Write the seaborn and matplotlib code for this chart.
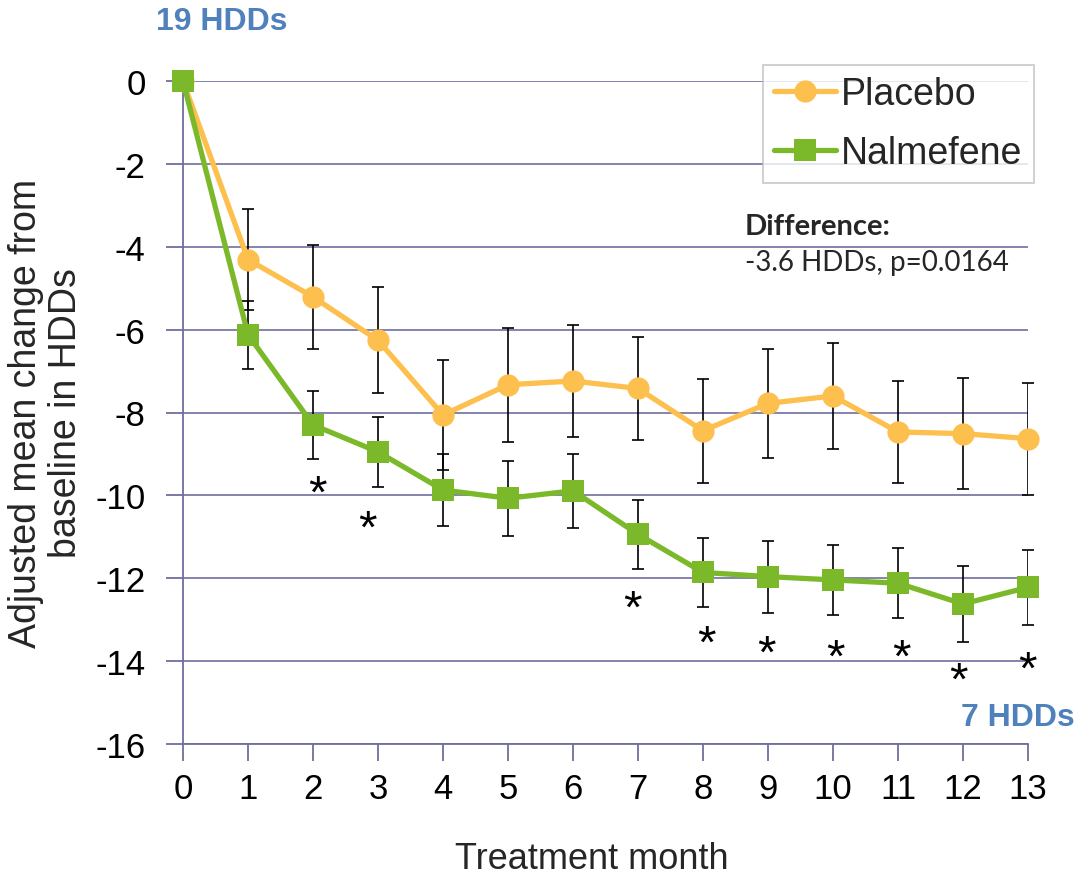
import matplotlib
matplotlib.use('Agg')
import matplotlib.pyplot as plt
from matplotlib.lines import Line2D
import numpy as np
import pandas as pd
import seaborn as sns

sns.set_theme(style="white")
plt.rcParams['font.family'] = ['Liberation Sans', 'DejaVu Sans']
plt.rcParams['axes.unicode_minus'] = False

# ---- data ----
months = list(range(14))
placebo = [0, -4.31, -5.21, -6.26, -8.06, -7.33, -7.24, -7.42, -8.44, -7.78, -7.60, -8.47, -8.51, -8.63]
placebo_err = [0, 1.21, 1.25, 1.28, 1.33, 1.38, 1.36, 1.24, 1.26, 1.32, 1.28, 1.22, 1.34, 1.35]
nalmefene = [0, -6.12, -8.30, -8.95, -9.87, -10.07, -9.89, -10.94, -11.86, -11.96, -12.04, -12.12, -12.62, -12.22]
nalmefene_err = [0, 0.82, 0.83, 0.85, 0.87, 0.90, 0.89, 0.84, 0.84, 0.87, 0.84, 0.84, 0.91, 0.91]

# significance stars (month position, y position)
star_x = [2.07, 2.84, 6.92, 8.06, 8.98, 10.04, 11.05, 11.93, 12.99]
star_y = [-9.65, -10.5, -12.43, -13.28, -13.5, -13.6, -13.6, -14.17, -13.9]

y_ticks = [0, -2, -4, -6, -8, -10, -12, -14, -16]

groups = ['Placebo', 'Nalmefene']
colors = {'Placebo': '#FDC04F', 'Nalmefene': '#7BB92A'}
markers = {'Placebo': 'o', 'Nalmefene': 's'}
axis_col = '#6E6E9E'

df = pd.DataFrame({
    'month': months * 2,
    'change': placebo + nalmefene,
    'group': ['Placebo'] * len(months) + ['Nalmefene'] * len(months),
})

fig = plt.figure(figsize=(10.78, 8.79), dpi=100)
ax = fig.add_axes([183 / 1078, 1 - 745 / 879, 845 / 1078, 663 / 879])

# error bars first, under the lines
ax.errorbar(months, placebo, yerr=placebo_err, fmt='none', ecolor='black',
            elinewidth=1.2, capsize=4.3, capthick=1.2, zorder=1.5)
ax.errorbar(months, nalmefene, yerr=nalmefene_err, fmt='none', ecolor='black',
            elinewidth=1.2, capsize=4.3, capthick=1.2, zorder=1.5)

sns.lineplot(data=df, x='month', y='change', hue='group', style='group',
             hue_order=groups, style_order=groups, palette=colors,
             markers=markers, dashes=False, markersize=16, markeredgewidth=0,
             linewidth=3.8, legend=False, ax=ax, zorder=3)
for line in ax.lines:
    line.set_clip_on(False)

# asterisk glyph sits high in its text box, so nudge it down
for sx, sy in zip(star_x, star_y):
    ax.annotate('*', (sx, sy), xytext=(0, -10), textcoords='offset points',
                ha='center', va='center', fontsize=34, color='black')

ax.set_xlim(0, 13)
ax.set_ylim(-16, 0)
ax.set_xticks(months)
ax.set_yticks(y_ticks)
ax.tick_params(axis='both', labelsize=25, colors=axis_col, labelcolor='black',
               length=12, width=1.3, direction='out', left=True, bottom=True)
ax.tick_params(axis='x', pad=8)
ax.tick_params(axis='y', pad=15)
ax.yaxis.grid(True, color=axis_col, linewidth=1.2)
ax.xaxis.grid(False)
ax.set_axisbelow(True)
for side in ['top', 'right']:
    ax.spines[side].set_visible(False)
for side in ['left', 'bottom']:
    ax.spines[side].set_color(axis_col)
    ax.spines[side].set_linewidth(1.3)

ax.set_xlabel("Treatment month", fontsize=26, labelpad=26)
ax.xaxis.label.set_x((592 - 183) / 845)
ax.set_ylabel("Adjusted mean change from\nbaseline in HDDs", fontsize=27, labelpad=8,
              linespacing=1.15)

handles = [Line2D([], [], color=colors[g], marker=markers[g], markersize=16,
                  markeredgewidth=0, linewidth=3.8) for g in groups]
leg = ax.legend(handles, groups, loc='upper right',
                bbox_to_anchor=(1034 / 1078, 1 - 66 / 879), bbox_transform=fig.transFigure,
                fontsize=27, frameon=True, fancybox=False, handlelength=1.65,
                handletextpad=0.15, borderpad=0.3, labelspacing=0.62, borderaxespad=0)
leg.get_frame().set_edgecolor('#BBBBBB')
leg.get_frame().set_linewidth(1.2)

fig.text(222 / 1078, 1 - 22 / 879, "19 HDDs", ha='center', va='center',
         fontsize=23, fontweight='bold', color='#4F81BD')
fig.text(1018 / 1078, 1 - 718 / 879, "7 HDDs", ha='center', va='center',
         fontsize=23, fontweight='bold', color='#4F81BD')

fig.text(745 / 1078, 1 - 227 / 879, "Difference:", ha='left', va='center',
         fontsize=21, fontweight='bold', family=['Lato', 'DejaVu Sans'])
fig.text(745 / 1078, 1 - 263 / 879, "-3.6 HDDs, p=0.0164", ha='left', va='center',
         fontsize=20, family=['Lato', 'DejaVu Sans'])

fig.savefig("out.png", dpi=100)
